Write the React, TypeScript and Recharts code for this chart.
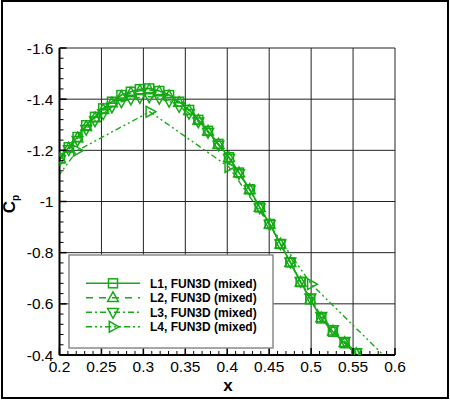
import React from 'react';
import { LineChart, Line, XAxis, YAxis, CartesianGrid } from 'recharts';

const GREEN = '#15aa15';
const FONT = '"Liberation Sans", Arial, Helvetica, sans-serif';

// axis ticks
const xMajorTicks = [0.2, 0.25, 0.3, 0.35, 0.4, 0.45, 0.5, 0.55, 0.6];
const xTickLabels = ['0.2', '0.25', '0.3', '0.35', '0.4', '0.45', '0.5', '0.55', '0.6'];
const yMajorTicks = [-1.6, -1.4, -1.2, -1.0, -0.8, -0.6, -0.4];
const yTickLabels = ['-1.6', '-1.4', '-1.2', '-1', '-0.8', '-0.6', '-0.4'];

// series names
const seriesNames = ['L1, FUN3D (mixed)', 'L2, FUN3D (mixed)', 'L3, FUN3D (mixed)', 'L4, FUN3D (mixed)'];

// L1
const l1X = [0.2006, 0.2110, 0.2215, 0.2318, 0.2423, 0.2521, 0.2625, 0.2738, 0.2851, 0.2958, 0.3070,
  0.3190, 0.3307, 0.3426, 0.3545, 0.3655, 0.3771, 0.3895, 0.4021, 0.4140, 0.4268, 0.4387, 0.4506,
  0.4633, 0.4752, 0.4875, 0.4990, 0.5121, 0.5260, 0.5399, 0.5538];
const l1Y = [-1.169, -1.212, -1.252, -1.298, -1.331, -1.364, -1.390, -1.416, -1.429, -1.439, -1.442,
  -1.432, -1.416, -1.390, -1.358, -1.319, -1.276, -1.225, -1.173, -1.113, -1.048, -0.977, -0.912,
  -0.834, -0.762, -0.685, -0.618, -0.543, -0.491, -0.446, -0.404];

// L2
const l2X = [0.2006, 0.2110, 0.2215, 0.2318, 0.2423, 0.2521, 0.2625, 0.2738, 0.2851, 0.2958, 0.3070,
  0.3190, 0.3307, 0.3426, 0.3545, 0.3655, 0.3771, 0.3895, 0.4021, 0.4140, 0.4268, 0.4387, 0.4506,
  0.4633, 0.4752, 0.4875, 0.4990, 0.5121, 0.5260, 0.5399, 0.5538];
const l2Y = [-1.166, -1.208, -1.248, -1.292, -1.326, -1.358, -1.385, -1.410, -1.424, -1.433, -1.436,
  -1.428, -1.412, -1.387, -1.355, -1.317, -1.274, -1.223, -1.171, -1.111, -1.046, -0.976, -0.911,
  -0.833, -0.761, -0.684, -0.616, -0.544, -0.493, -0.448, -0.405];

// L3
const l3X = [0.2006, 0.2110, 0.2215, 0.2318, 0.2423, 0.2521, 0.2625, 0.2738, 0.2851, 0.2958, 0.3070,
  0.3190, 0.3307, 0.3426, 0.3545, 0.3655, 0.3771, 0.3895, 0.4021, 0.4140, 0.4268, 0.4387, 0.4506,
  0.4633, 0.4752, 0.4875, 0.4990, 0.5121, 0.5260, 0.5399, 0.5538];
const l3Y = [-1.164, -1.203, -1.240, -1.283, -1.316, -1.344, -1.370, -1.390, -1.401, -1.407, -1.410,
  -1.404, -1.392, -1.372, -1.345, -1.312, -1.271, -1.221, -1.169, -1.110, -1.046, -0.976, -0.911,
  -0.835, -0.764, -0.688, -0.624, -0.552, -0.500, -0.454, -0.410];

// L4
const l4X = [0.13, 0.2212, 0.3077, 0.4018, 0.5002, 0.60];
const l4Y = [-0.80, -1.199, -1.351, -1.135, -0.677, -0.355];

const toRows = (xs: number[], ys: number[]) => xs.map((x, i) => ({ x, y: ys[i] }));
const l1Data = toRows(l1X, l1Y);
const l2Data = toRows(l2X, l2Y);
const l3Data = toRows(l3X, l3Y);
const l4Data = toRows(l4X, l4Y);

const minorsOf = (majors: number[]) => {
  const out: number[] = [];
  for (let i = 0; i < majors.length - 1; i++) {
    const a = majors[i], b = majors[i + 1];
    for (let k = 1; k < 5; k++) out.push(+(a + ((b - a) * k) / 5).toFixed(4));
  }
  return out;
};
const xAllTicks = [...xMajorTicks, ...minorsOf(xMajorTicks)].sort((a, b) => a - b);
const yAllTicks = [...yMajorTicks, ...minorsOf(yMajorTicks)].sort((a, b) => a - b);

const PLOT_LEFT = 59.5;
const PLOT_BOTTOM = 355;

const findMajor = (arr: number[], v: number) => arr.findIndex((m) => Math.abs(m - v) < 1e-6);

function XTick(props: any) {
  const { x, payload } = props;
  const idx = findMajor(xMajorTicks, payload.value);
  const major = idx >= 0;
  return (
    <g>
      <line x1={x} x2={x} y1={PLOT_BOTTOM} y2={PLOT_BOTTOM - (major ? 7 : 4)} stroke="#000" strokeWidth={major ? 1.5 : 1} />
      {major && (
        <text x={x} y={372} textAnchor="middle" fontSize={15.5} fontFamily={FONT} fill="#000">
          {xTickLabels[idx]}
        </text>
      )}
    </g>
  );
}

function YTick(props: any) {
  const { y, payload } = props;
  const idx = findMajor(yMajorTicks, payload.value);
  const major = idx >= 0;
  return (
    <g>
      <line x1={PLOT_LEFT} x2={PLOT_LEFT + (major ? 7 : 4)} y1={y} y2={y} stroke="#000" strokeWidth={major ? 1.5 : 1} />
      {major && (
        <text x={53.5} y={y + 5.5} textAnchor="end" fontSize={15.5} fontFamily={FONT} fill="#000">
          {yTickLabels[idx]}
        </text>
      )}
    </g>
  );
}

type Shape = 'square' | 'up' | 'down' | 'right';

function Marker({ shape, cx, cy }: { shape: Shape; cx: number; cy: number }) {
  const common = { fill: 'none', stroke: GREEN, strokeWidth: 1.5 };
  if (shape === 'square') {
    const s = 4.5;
    return <rect x={cx - s} y={cy - s} width={2 * s} height={2 * s} {...common} />;
  }
  if (shape === 'up') {
    return <polygon points={`${cx},${cy - 6} ${cx + 5.4},${cy + 3.7} ${cx - 5.4},${cy + 3.7}`} {...common} />;
  }
  if (shape === 'down') {
    return <polygon points={`${cx},${cy + 6} ${cx + 5.4},${cy - 3.7} ${cx - 5.4},${cy - 3.7}`} {...common} />;
  }
  return <polygon points={`${cx + 6},${cy} ${cx - 3.7},${cy - 5.4} ${cx - 3.7},${cy + 5.4}`} {...common} />;
}

const makeDot = (shape: Shape) => (p: any) => {
  const { cx, cy, index } = p;
  if (cx == null || cy == null || isNaN(cx) || isNaN(cy)) return <g key={`${shape}-${index}`} />;
  return <Marker key={`${shape}-${index}`} shape={shape} cx={cx} cy={cy} />;
};

const legendStyles: { dash?: string; shape: Shape }[] = [
  { dash: undefined, shape: 'square' },
  { dash: '7 6', shape: 'up' },
  { dash: '6 3 2 3', shape: 'down' },
  { dash: '6 3 2 3 2 3', shape: 'right' },
];

export default function App() {
  return (
    <div style={{ position: 'absolute', left: 0, top: 0, width: 450, height: 400, background: '#fff' }}>
      <LineChart width={450} height={400} margin={{ top: 48, right: 55, bottom: 0, left: 0 }}>
        <CartesianGrid
          stroke="#222"
          strokeWidth={1}
          verticalValues={xMajorTicks}
          horizontalValues={yMajorTicks}
        />
        <XAxis
          type="number"
          dataKey="x"
          domain={[0.2, 0.6]}
          allowDataOverflow
          ticks={xAllTicks}
          interval={0}
          tick={<XTick />}
          tickLine={false}
          axisLine={{ stroke: '#000', strokeWidth: 2 }}
          height={45}
        />
        <YAxis
          type="number"
          dataKey="y"
          domain={[-1.6, -0.4]}
          reversed
          allowDataOverflow
          ticks={yAllTicks}
          interval={0}
          tick={<YTick />}
          tickLine={false}
          axisLine={{ stroke: '#000', strokeWidth: 2 }}
          width={59.5}
        />
        <Line data={l4Data} dataKey="y" stroke={GREEN} strokeWidth={1.4} strokeDasharray="6 3 2 3 2 3"
          dot={makeDot('right')} activeDot={false} isAnimationActive={false} />
        <Line data={l3Data} dataKey="y" stroke={GREEN} strokeWidth={1.4} strokeDasharray="6 3 2 3"
          dot={makeDot('down')} activeDot={false} isAnimationActive={false} />
        <Line data={l2Data} dataKey="y" stroke={GREEN} strokeWidth={1.4} strokeDasharray="7 6"
          dot={makeDot('up')} activeDot={false} isAnimationActive={false} />
        <Line data={l1Data} dataKey="y" stroke={GREEN} strokeWidth={1.6}
          dot={makeDot('square')} activeDot={false} isAnimationActive={false} />
      </LineChart>
      <svg width={450} height={400} style={{ position: 'absolute', left: 0, top: 0, pointerEvents: 'none' }}>
        {/* outer frame */}
        <rect x={2} y={1} width={446} height={397} fill="none" stroke="#000" strokeWidth={2} />
        {/* axis titles */}
        <text x={228} y={390.5} textAnchor="middle" fontSize={17} fontWeight="bold" fontFamily={FONT} fill="#000">x</text>
        <text transform="translate(14.5,204) rotate(-90)" textAnchor="middle" fontFamily={FONT} fontWeight="bold" fill="#000">
          <tspan fontSize={17}>C</tspan>
          <tspan fontSize={10} dy={4}>p</tspan>
        </text>
        {/* legend */}
        <rect x={69} y={255} width={204} height={93} fill="#fff" stroke="#8a8a8a" strokeWidth={1.5} />
        {legendStyles.map((s, i) => {
          const cy = 283.3 + i * 14.5;
          return (
            <g key={i}>
              <line x1={86} x2={140} y1={cy} y2={cy} stroke={GREEN} strokeWidth={1.6} strokeDasharray={s.dash} />
              <Marker shape={s.shape} cx={113} cy={cy} />
              <text x={150} y={cy + 4.5} fontSize={12} fontWeight="bold" fontFamily={FONT} fill="#000">
                {seriesNames[i]}
              </text>
            </g>
          );
        })}
      </svg>
    </div>
  );
}
